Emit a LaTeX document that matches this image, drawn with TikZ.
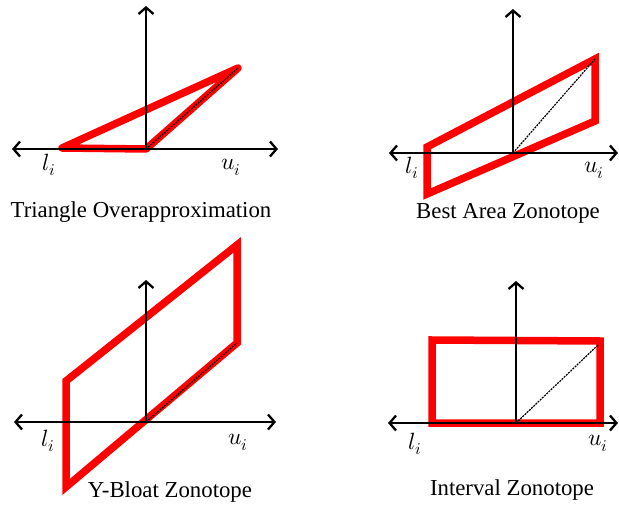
\documentclass[tikz,border=0pt]{standalone}
\usepackage{unicode-math}
\setmainfont{Liberation Serif}
\setmathfont{Latin Modern Math}
\usetikzlibrary{arrows.meta}
\begin{document}
\begin{tikzpicture}[x=1pt,y=-1pt,
  barb/.tip={Straight Barb[length=6.5pt,width=15pt]},
  axis/.style={line width=2.3pt},
  region/.style={draw=red,line width=7.5pt,line join=miter},
  diag/.style={black,line width=1.2pt,dash pattern=on 2pt off 1pt},
  lab/.style={font=\fontsize{23.5}{27}\selectfont,inner sep=0pt},
  captxt/.style={font=\fontsize{22.8}{27}\selectfont,inner sep=0pt}]
\useasboundingbox (0,0) rectangle (619,506);

% ---------- Panel 1: Triangle ----------
\coordinate (o1) at (146,149);
\coordinate (x1l) at (12,149);
\coordinate (x1r) at (278,149);
\coordinate (y1t) at (146,6);
\coordinate (t1a) at (62,148);
\coordinate (t1b) at (238,68);
\draw[region,line join=round] (t1a) -- (o1) -- (t1b) -- cycle;
\draw[diag] (o1) -- (t1b);
\draw[axis,barb-barb] (x1l) -- (x1r);
\draw[axis,-barb] (o1) -- (y1t);
\node[lab] (l1) at (49,165) {$l_i$};
\node[lab] (u1) at (231,167) {$u_i$};
\node[captxt] (c1) at (141,212) {Triangle Overapproximation};

% ---------- Panel 2: Best Area ----------
\coordinate (o2) at (513,153);
\coordinate (x2l) at (389,153);
\coordinate (x2r) at (618,153);
\coordinate (y2t) at (513,9);
\coordinate (p2a) at (427,147);
\coordinate (p2b) at (595,59);
\coordinate (p2c) at (595,121);
\coordinate (p2d) at (427,194);
\draw[region] (p2a) -- (p2b) -- (p2c) -- (p2d) -- cycle;
\draw[diag] (o2) -- (p2b);
\draw[axis,barb-barb] (x2l) -- (x2r);
\draw[axis,-barb] (o2) -- (y2t);
\node[lab] (l2) at (412,168) {$l_i$};
\node[lab] (u2) at (594,170) {$u_i$};
\node[captxt] (c2) at (508,213) {Best Area Zonotope};

% ---------- Panel 3: Y-Bloat ----------
\coordinate (o3) at (146,422);
\coordinate (x3l) at (14,422);
\coordinate (x3r) at (276,422);
\coordinate (y3t) at (146,280);
\coordinate (p3a) at (66,381);
\coordinate (p3b) at (237,245);
\coordinate (p3c) at (237,343);
\coordinate (p3d) at (66,487);
\draw[region] (p3a) -- (p3b) -- (p3c) -- (p3d) -- cycle;
\draw[diag] (o3) -- (p3c);
\draw[axis,barb-barb] (x3l) -- (x3r);
\draw[axis,-barb] (o3) -- (y3t);
\node[lab] (l3) at (48,441) {$l_i$};
\node[lab] (u3) at (238,442) {$u_i$};
\node[captxt] (c3) at (170,492) {Y-Bloat Zonotope};

% ---------- Panel 4: Interval ----------
\coordinate (o4) at (516,423);
\coordinate (x4l) at (388,423);
\coordinate (x4r) at (618,423);
\coordinate (y4t) at (516,281);
\coordinate (p4a) at (432,340);
\coordinate (p4b) at (600,341);
\coordinate (p4c) at (600,423);
\coordinate (p4d) at (432,423);
\coordinate (d4) at (598,345);
\draw[region] (p4a) -- (p4b) -- (p4c) -- (p4d) -- cycle;
\draw[diag] (o4) -- (d4);
\draw[axis,barb-barb] (x4l) -- (x4r);
\draw[axis,-barb] (o4) -- (y4t);
\node[lab] (l4) at (415,444) {$l_i$};
\node[lab] (u4) at (598,443) {$u_i$};
\node[captxt] (c4) at (512,490) {Interval Zonotope};
\end{tikzpicture}
\end{document}
